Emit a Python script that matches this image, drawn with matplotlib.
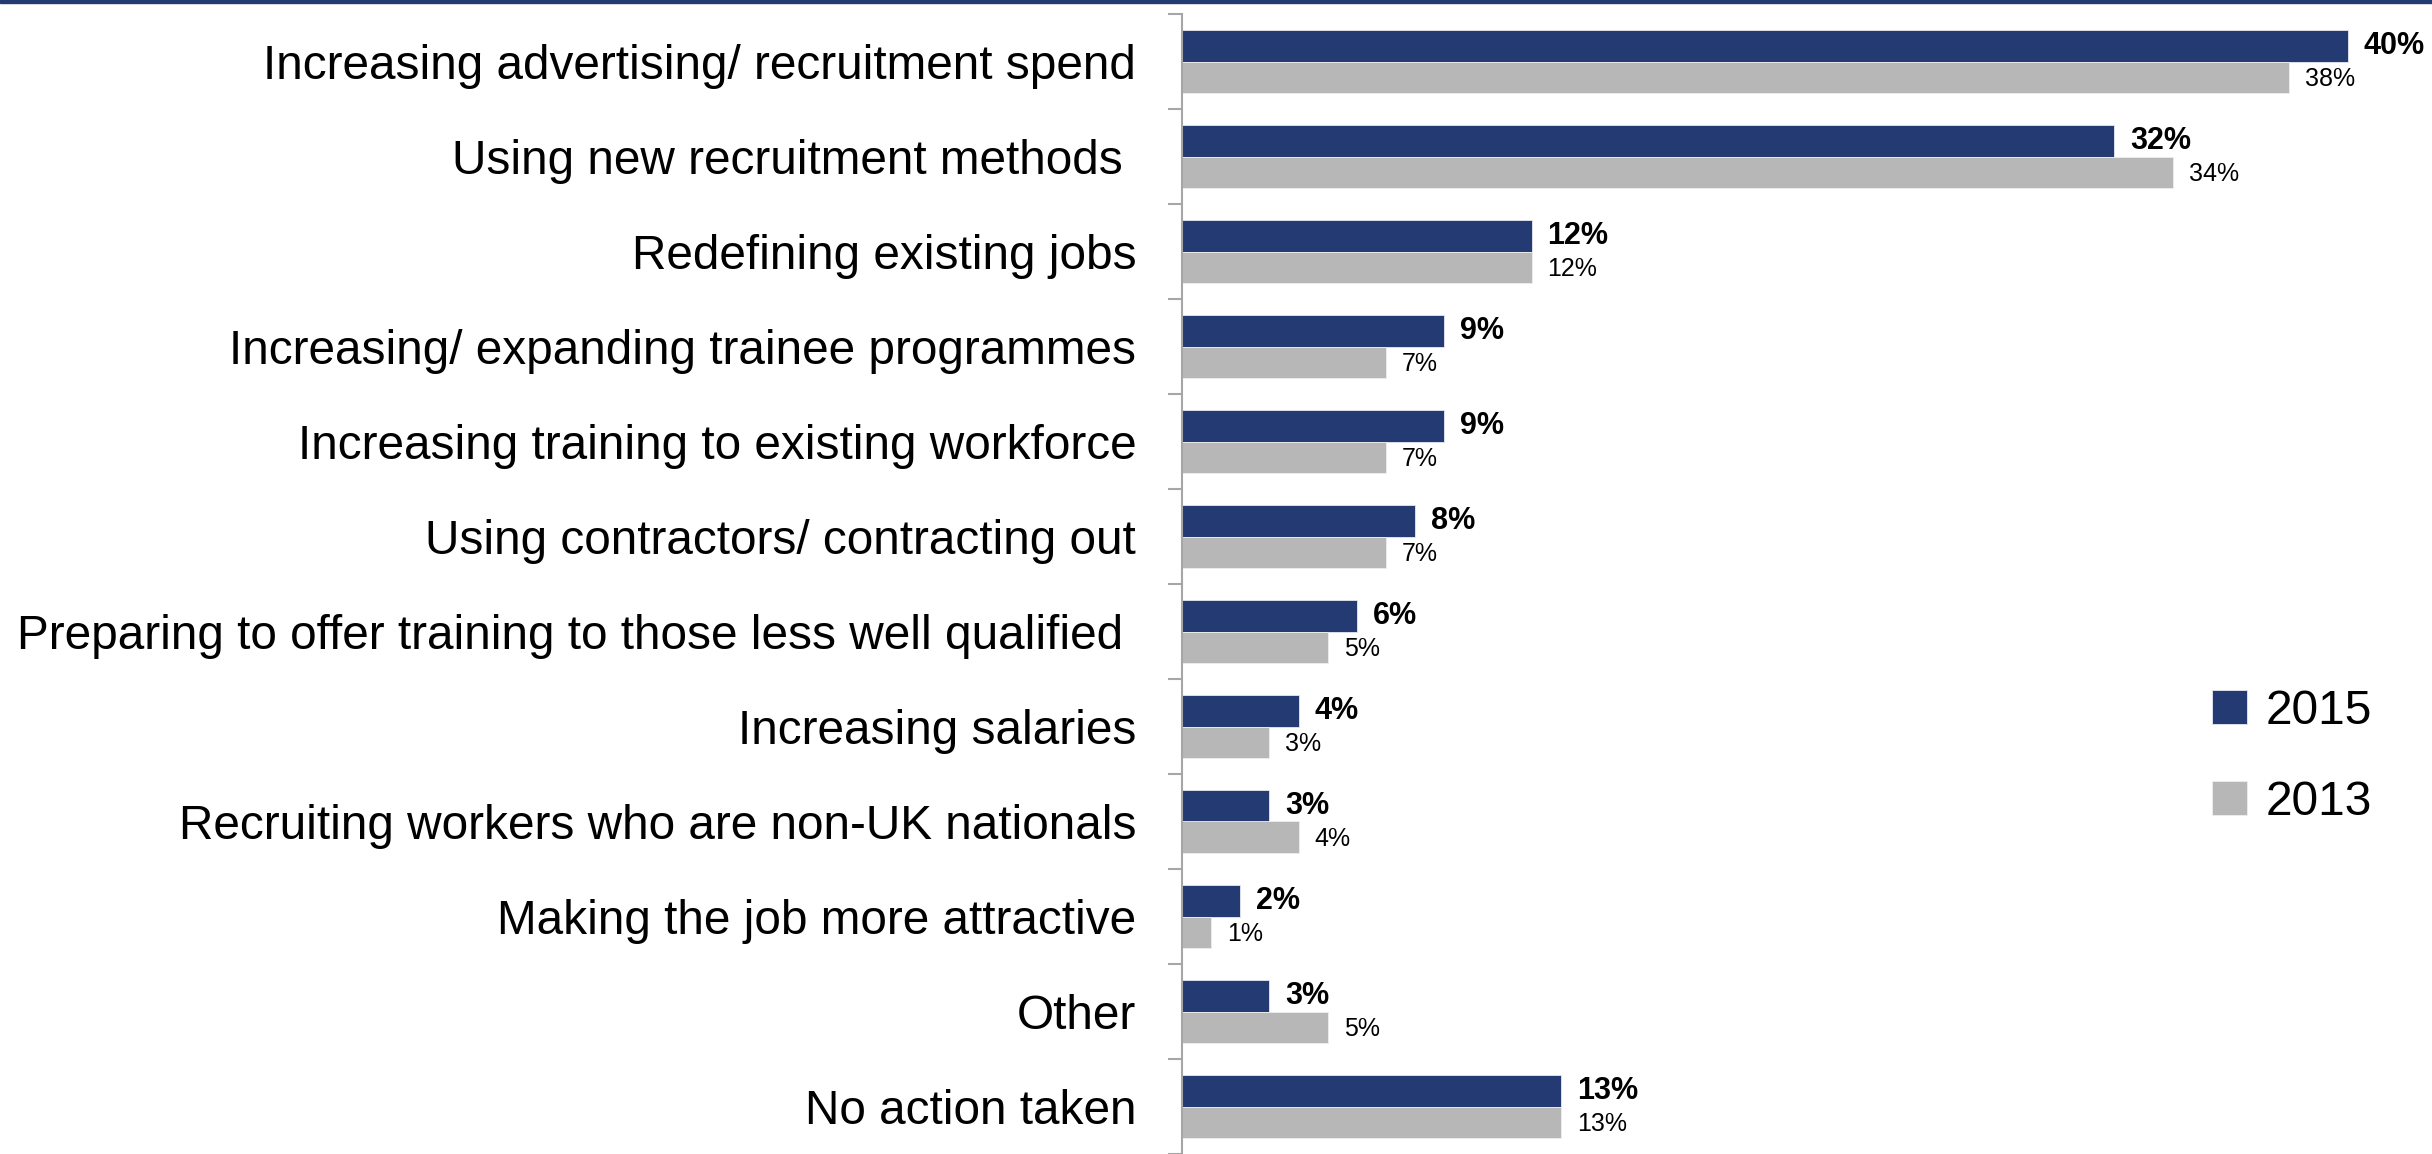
import numpy as np
import matplotlib.pyplot as plt
from matplotlib.patches import Rectangle

plt.rcParams['font.family'] = ['Liberation Sans', 'DejaVu Sans']

# Data
categories = [
    'Increasing advertising/ recruitment spend',
    'Using new recruitment methods ',
    'Redefining existing jobs',
    'Increasing/ expanding trainee programmes',
    'Increasing training to existing workforce',
    'Using contractors/ contracting out',
    'Preparing to offer training to those less well qualified ',
    'Increasing salaries',
    'Recruiting workers who are non-UK nationals',
    'Making the job more attractive',
    'Other',
    'No action taken',
]
values_2015 = [40, 32, 12, 9, 9, 8, 6, 4, 3, 2, 3, 13]
values_2013 = [38, 34, 12, 7, 7, 7, 5, 3, 4, 1, 5, 13]
series_labels = ['2015', '2013']

blue = '#243A73'
grey = '#B7B7B7'

fig = plt.figure(figsize=(24.32, 11.54), dpi=100)
ax = fig.add_axes([1182 / 2432, 0.0, 1 - 1182 / 2432, 1 - 14 / 1154])

y = np.arange(len(categories))
h = 0.33
bars_a = ax.barh(y - h / 2, values_2015, height=h, color=blue,
                 edgecolor='#e8e8f0', linewidth=0.6, label=series_labels[0])
bars_b = ax.barh(y + h / 2, values_2013, height=h, color=grey,
                 edgecolor='#eeeeee', linewidth=0.6, label=series_labels[1])

# value labels
for rect, v in zip(bars_a, values_2015):
    ax.annotate(f'{v}%', (rect.get_width(), rect.get_y() + rect.get_height() / 2),
                xytext=(11.5, 0), textcoords='offset points', va='center', ha='left',
                fontsize=22, fontweight='bold')
for rect, v in zip(bars_b, values_2013):
    ax.annotate(f'{v}%', (rect.get_width(), rect.get_y() + rect.get_height() / 2),
                xytext=(11.5, -1), textcoords='offset points', va='center', ha='left',
                fontsize=18)

ax.set_xlim(0, 42.9)
ax.set_ylim(len(categories) - 0.5, -0.5)
ax.set_yticks(y)
ax.set_yticklabels(categories, fontsize=34.4)
ax.set_yticks(np.arange(len(categories) + 1) - 0.5, minor=True)
ax.tick_params(axis='y', which='major', length=0, pad=33)
ax.tick_params(axis='y', which='minor', length=10, width=1.5, color='#A6A6A6', direction='out')
ax.set_xticks([])
for s in ['top', 'right', 'bottom']:
    ax.spines[s].set_visible(False)
ax.spines['left'].set_color('#A6A6A6')
ax.spines['left'].set_linewidth(1.5)

fig.legend(handles=[bars_a, bars_b], labels=series_labels,
           loc='upper left', bbox_to_anchor=(2212 / 2432, 1 - 689 / 1154),
           frameon=False, fontsize=34.5, handlelength=0.72, handleheight=0.72,
           handletextpad=0.4, labelspacing=0.95, borderpad=0, borderaxespad=0)

# thin navy rule along the top edge
fig.patches.append(Rectangle((0, 1 - 3 / 1154), 1, 3 / 1154, transform=fig.transFigure,
                             color=blue, zorder=10))

fig.savefig('out.png', dpi=100)
